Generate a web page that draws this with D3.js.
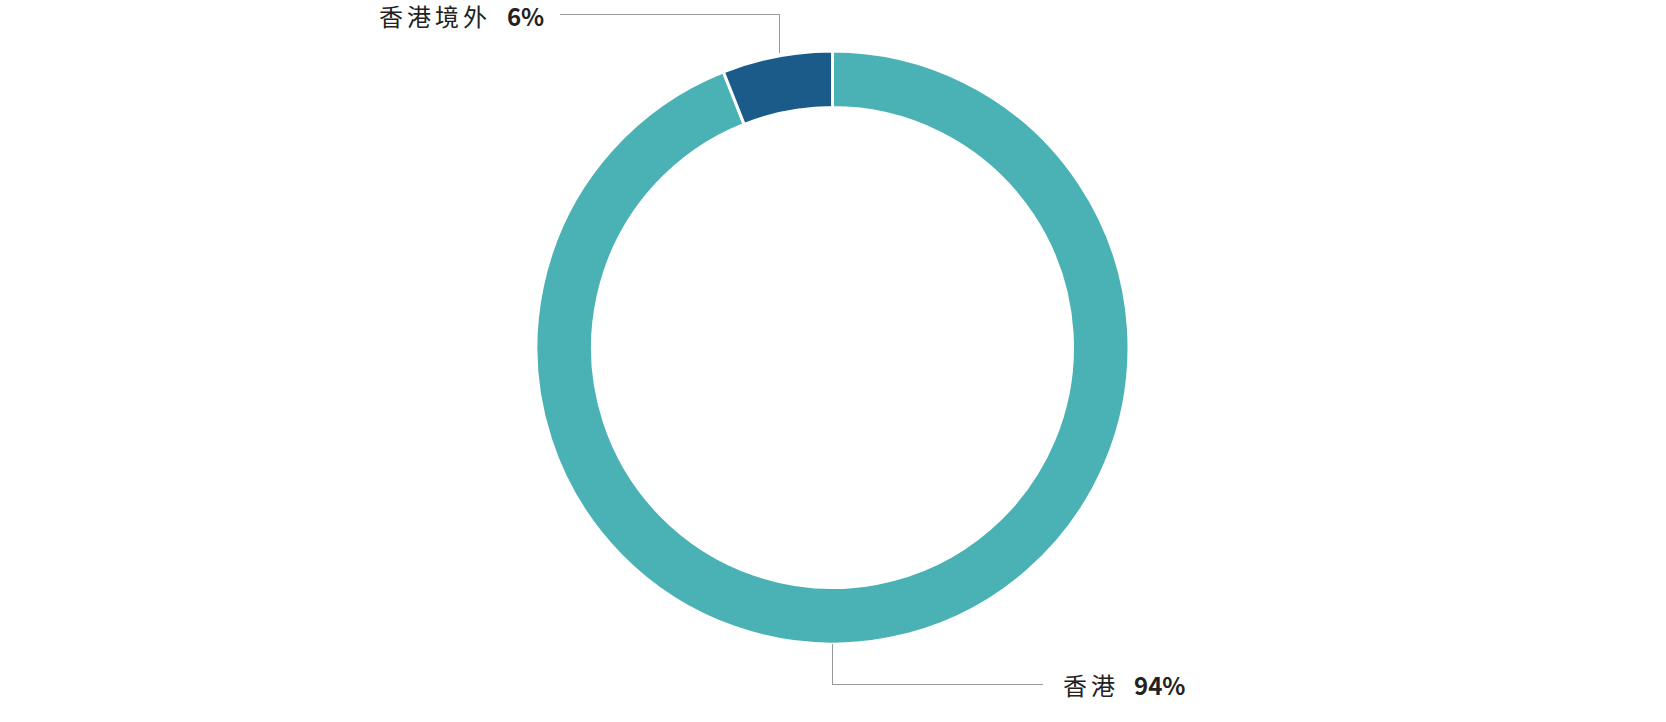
<!DOCTYPE html>
<html><head><meta charset="utf-8">
<script src="https://cdn.jsdelivr.net/npm/d3@7"></script>
<style>html,body{margin:0;padding:0;background:#fff;}svg{display:block;}</style>
</head><body>
<svg id="c" width="1666" height="722"></svg>
<script>
const categories = ["香港", "香港境外"];
const values = [94, 6];
const valueLabels = ["94%", "6%"];
const colors = ["#4ab2b4", "#1a5b89"];

const svg = d3.select("#c");
const cx = 832.5, cy = 347.5, R = 296.5, r = 240;
const g = svg.append("g").attr("transform", `translate(${cx},${cy})`);

const pie = d3.pie().sort(null).value(d => d.v);
const data = pie(categories.map((c, i) => ({c, v: values[i], lab: valueLabels[i], col: colors[i]})));
const arc = d3.arc().innerRadius(r).outerRadius(R);

g.selectAll("path").data(data).join("path")
  .attr("d", arc).attr("fill", d => d.data.col)
  .attr("stroke", "#fff").attr("stroke-width", 3).attr("stroke-linejoin", "miter");

const font = "'Noto Sans CJK TC','Noto Sans CJK SC',sans-serif";

function label(x, y, d) {
  g.append("text").attr("x", x).attr("y", y)
    .attr("font-family", font).attr("font-size", 24).attr("fill", "#222")
    .attr("letter-spacing", 4).text(d.data.c);
}
function pct(x, y, d) {
  g.append("text").attr("x", x).attr("y", y)
    .attr("font-family", font).attr("font-size", 24).attr("font-weight", "bold").attr("fill", "#222")
    .attr("letter-spacing", 0).text(d.data.lab);
}

// label for 香港境外 (top-left)
const d1 = data[1];
const m1 = (d1.startAngle + d1.endAngle) / 2;
const x1 = Math.sin(m1) * (R - 16);
const y1 = -R - 36.5;
const lx1 = x1 - 220;
g.append("polyline")
  .attr("points", [[x1, -R + 1.5], [x1, y1], [lx1, y1]].map(p => p.join(",")).join(" "))
  .attr("fill", "none").attr("stroke", "#999").attr("stroke-width", 1).attr("shape-rendering", "crispEdges");
label(lx1 - 181, y1 + 11, d1);
pct(lx1 - 53, y1 + 11, d1);

// label for 香港 (bottom-right)
const d0 = data[0];
const y0 = R + 40;
const lx0 = 210.5;
g.append("polyline")
  .attr("points", [[0, R - 0.5], [0, y0], [lx0, y0]].map(p => p.join(",")).join(" "))
  .attr("fill", "none").attr("stroke", "#999").attr("stroke-width", 1).attr("shape-rendering", "crispEdges");
label(lx0 + 20, y0 + 10.5, d0);
pct(lx0 + 91, y0 + 10.5, d0);
</script>
</body></html>
